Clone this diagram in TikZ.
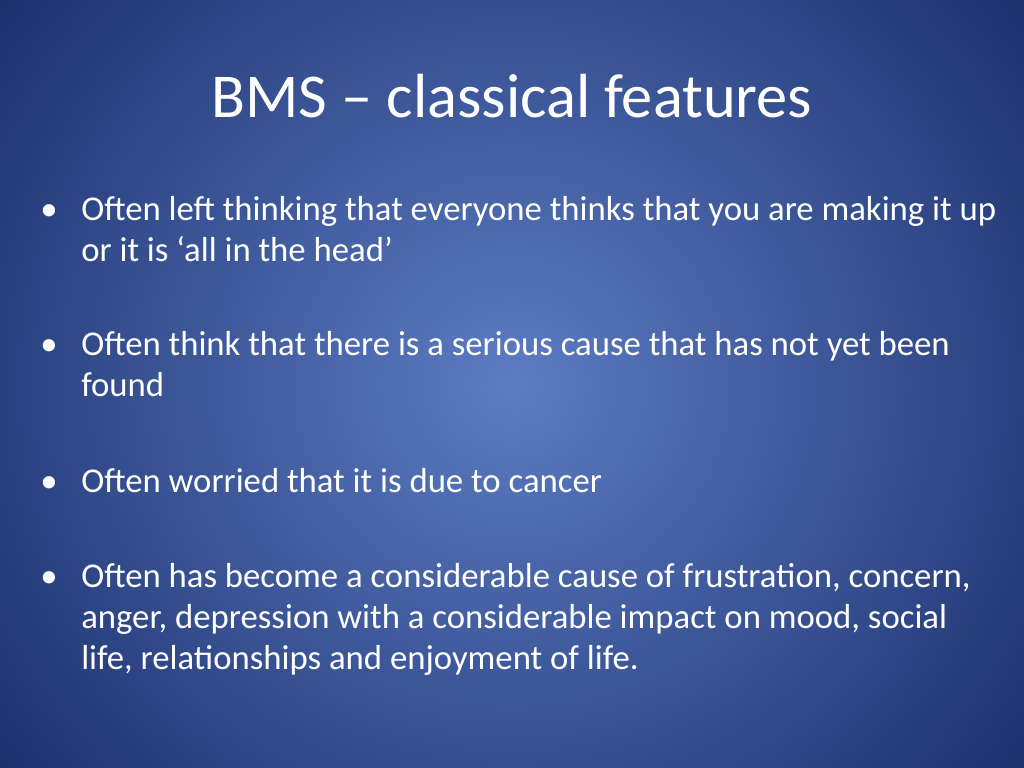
\documentclass[tikz,border=0pt]{standalone}
\usepackage{fontspec}
\setmainfont{Carlito}
\definecolor{inner}{RGB}{92,124,194}
\definecolor{outer}{RGB}{22,42,102}
\begin{document}
\begin{tikzpicture}[x=0.0248cm,y=-0.0248cm,
  body/.style={anchor=base west,inner sep=0,text=white,font=\fontsize{24.5}{29}\selectfont}]
\useasboundingbox (0,0) rectangle (1024,768);
\shade[inner color=inner,outer color=outer] (-200,-300) rectangle (1224,1068);
\node[anchor=base,inner sep=0,text=white,font=\fontsize{44}{50}\selectfont] (title) at (512,118) {BMS – classical features};
\node[body] (d1) at (40,220) {•};
\node[body] (b1a) at (81,220) {Often left thinking that everyone thinks that you are making it up};
\node[body] (b1b) at (81,261) {or it is ‘all in the head’};
\node[body] (d2) at (40,355) {•};
\node[body] (b2a) at (81,355) {Often think that there is a serious cause that has not yet been};
\node[body] (b2b) at (81,396) {found};
\node[body] (d3) at (40,492) {•};
\node[body] (b3) at (81,492) {Often worried that it is due to cancer};
\node[body] (d4) at (40,587) {•};
\node[body] (b4a) at (81,587) {Often has become a considerable cause of frustration, concern,};
\node[body] (b4b) at (81,628) {anger, depression with a considerable impact on mood, social};
\node[body] (b4c) at (81,669) {life, relationships and enjoyment of life.};
\end{tikzpicture}
\end{document}
